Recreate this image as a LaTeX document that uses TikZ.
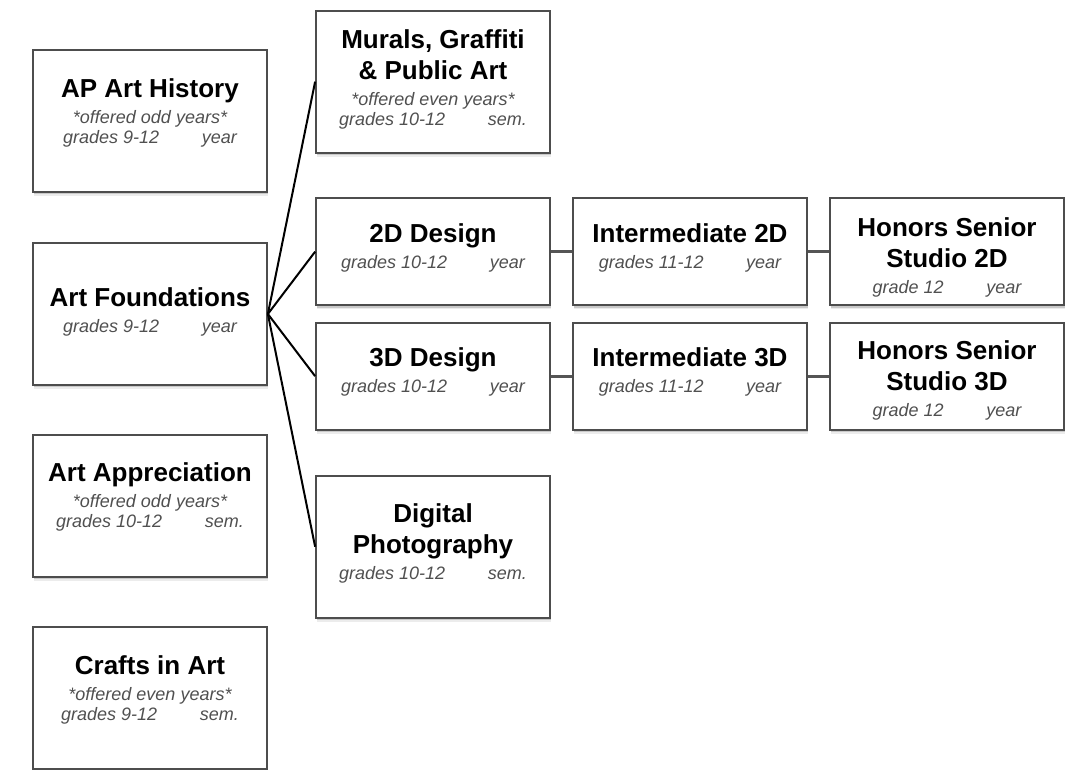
\documentclass[tikz,border=0pt]{standalone}
\usepackage{fontspec}
\setmainfont{Liberation Sans}
\usetikzlibrary{positioning,shadows}

\definecolor{boxline}{HTML}{4D4D4D}
\definecolor{subtext}{HTML}{505050}
\definecolor{link}{HTML}{555555}

% small italic lines under the course name
\newcommand{\offer}[1]{{\fontsize{13.5}{16}\selectfont\mdseries\itshape\color{subtext}#1}}
\newcommand{\term}[2]{\offer{#1\hspace{32pt}#2}}

\begin{document}
\begin{tikzpicture}[auto,node distance=192.75pt,
    thick,course/.style={rectangle,draw=boxline,line width=1.3pt,fill=white,
      drop shadow={shadow xshift=0.6pt,shadow yshift=-3pt,fill=black!15},
      drop shadow={shadow xshift=0.4pt,shadow yshift=-1.8pt,fill=black!35},
      minimum width=175.5pt,minimum height=106.5pt,align=center,inner sep=2pt,
      font=\fontsize{19.5}{23.25}\selectfont\bfseries},
    short course/.style={course,minimum height=80.25pt},
    fan/.style={draw=black,line width=1.5pt},
    chain/.style={draw=link,line width=2.3pt}]

    \useasboundingbox (0,0) rectangle (803.25pt,-577.5pt);

    % left column
    \node[course,text depth=14.25pt] (ap) at (112.5pt,-90.75pt) {AP Art History\\[-3.75pt]\offer{*offered odd years*}\\[-8.25pt]\term{grades 9-12}{year}};
    \node[course,text depth=5.25pt] (found) [below of=ap,node distance=144.75pt] {Art Foundations\\[-3.75pt]\term{grades 9-12}{year}};
    \node[course,text depth=15.75pt] (apprec) [below of=found,node distance=144pt] {Art Appreciation\\[-3.75pt]\offer{*offered odd years*}\\[-8.25pt]\term{grades 10-12}{sem.}};
    \node[course,text depth=14.25pt] (crafts) [below of=apprec,node distance=144pt] {Crafts in Art\\[-3.75pt]\offer{*offered even years*}\\[-8.25pt]\term{grades 9-12}{sem.}};

    % second column
    \node[short course,text depth=9pt] (d2) [right of=found,node distance=212.25pt,yshift=46.75pt] {2D Design\\[-3.75pt]\term{grades 10-12}{year}};
    \node[short course,text depth=9.75pt] (d3) [below of=d2,node distance=93.4pt] {3D Design\\[-3.75pt]\term{grades 10-12}{year}};
    \node[course,text depth=6.75pt] (murals) [above of=d2,node distance=127.5pt] {Murals, Graffiti\\\& Public Art\\[-3.75pt]\offer{*offered even years*}\\[-8.25pt]\term{grades 10-12}{sem.}};
    \node[course,text depth=8.25pt] (photo) [below of=d3,node distance=127.9pt] {Digital\\Photography\\[-3.75pt]\term{grades 10-12}{sem.}};

    % later years
    \node[short course,text depth=9pt] (int2) [right of=d2] {Intermediate 2D\\[-3.75pt]\term{grades 11-12}{year}};
    \node[short course,text depth=9.75pt] (int3) [right of=d3] {Intermediate 3D\\[-3.75pt]\term{grades 11-12}{year}};
    \node[short course] (hon2) [right of=int2] {\rule{0pt}{23pt}Honors Senior\\Studio 2D\\[-3.75pt]\term{grade 12}{year}};
    \node[short course] (hon3) [right of=int3] {\rule{0pt}{21pt}Honors Senior\\Studio 3D\\[-3.75pt]\term{grade 12}{year}};

    \path[fan] (found.east) edge (murals.west);
    \path[fan] (found.east) edge (d2.west);
    \path[fan] (found.east) edge (d3.west);
    \path[fan] (found.east) edge (photo.west);
    \path[chain] (d2) edge (int2);
    \path[chain] (int2) edge (hon2);
    \path[chain] (d3) edge (int3);
    \path[chain] (int3) edge (hon3);
    \end{tikzpicture}
\end{document}
